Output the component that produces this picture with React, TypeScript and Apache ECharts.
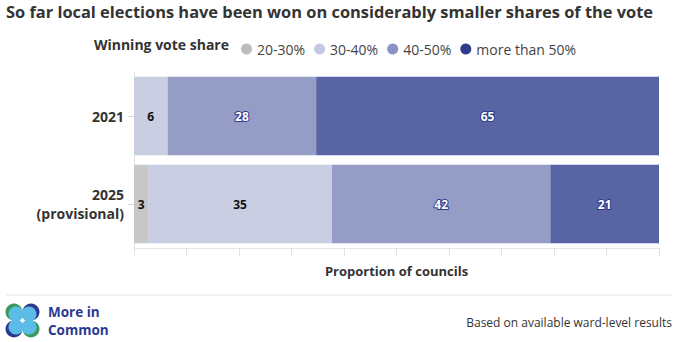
import React, { useEffect, useRef } from "react";
import * as echarts from "echarts";

const categories = ["2021", "2025\n(provisional)"];
const seriesNames = ["20-30%", "30-40%", "40-50%", "more than 50%"];
const share2030 = [0, 2.7];
const share3040 = [6.4, 35.0];
const share4050 = [28.3, 41.6];
const shareOver50 = [65.3, 20.7];
const xTicks = [0, 10, 20, 30, 40, 50, 60, 70, 80, 90, 100];

const barColors = ["#c7c7c7", "#c9cee3", "#959dc6", "#5864a3"];
const legendColors = ["#bdbdbd", "#c3c9e2", "#8a93c4", "#2e3a8c"];
const FONT = "Open Sans";

export default function App() {
  const ref = useRef<HTMLDivElement>(null);
  useEffect(() => {
    document.body.style.margin = "0";
    if (!ref.current) return;
    const chart = echarts.init(ref.current, null, { renderer: "svg" });
    const values = [share2030, share3040, share4050, shareOver50];
    const darkLabel = [false, false, true, true];
    const series = seriesNames.map((name, i) => ({
      name,
      type: "bar",
      stack: "total",
      barCategoryGap: "11%",
      data: values[i].map((v) => (v > 0 ? v : null)),
      itemStyle: { color: barColors[i] },
      label: {
        show: true,
        position: "inside",
        formatter: (p: any) => String(Math.round(p.value)),
        fontFamily: FONT,
        fontSize: 12,
        fontWeight: "bold",
        color: darkLabel[i] ? "#ffffff" : "#111111",
        textBorderColor: darkLabel[i] ? "#2e3a8c" : "transparent",
        textBorderWidth: darkLabel[i] ? 2 : 0,
      },
    }));
    chart.setOption({
      animation: false,
      textStyle: { fontFamily: FONT },
      legend: {
        left: 236,
        top: 37,
        icon: "circle",
        itemWidth: 11,
        itemHeight: 11,
        itemGap: 9,
        textStyle: { fontFamily: FONT, fontSize: 14, color: "#444444" },
        data: seriesNames.map((n, i) => ({ name: n, itemStyle: { color: legendColors[i] } })),
      },
      grid: { left: 134, right: 20, top: 72, bottom: 94, containLabel: false },
      xAxis: {
        type: "value",
        min: xTicks[0],
        max: xTicks[xTicks.length - 1],
        interval: 10,
        name: "Proportion of councils",
        nameLocation: "middle",
        nameGap: 16,
        nameTextStyle: { fontFamily: FONT, fontSize: 13, fontWeight: "bold", color: "#333333" },
        axisLabel: { show: false },
        axisLine: { show: true, lineStyle: { color: "#e6e6e6" } },
        axisTick: { show: true, length: 8, lineStyle: { color: "#e3e3e3" } },
        splitLine: { show: false },
      },
      yAxis: {
        type: "category",
        inverse: true,
        data: categories,
        axisLine: { show: true, lineStyle: { color: "#e3e3e3" } },
        axisTick: { show: true, length: 6, alignWithLabel: true, lineStyle: { color: "#d8d8d8" } },
        axisLabel: {
          margin: 10,
          fontFamily: FONT,
          fontSize: 14,
          fontWeight: "bold",
          color: "#333333",
          align: "right",
          lineHeight: 19,
        },
      },
      series,
      graphic: [
        {
          type: "text",
          left: 6,
          top: 3,
          style: {
            text: "So far local elections have been won on considerably smaller shares of the vote",
            fontFamily: FONT,
            fontSize: 16.4,
            fontWeight: "bold",
            fill: "#333333",
          },
        },
        {
          type: "text",
          x: 229,
          y: 44,
          style: {
            text: "Winning vote share",
            fontFamily: FONT,
            fontSize: 14,
            fontWeight: "bold",
            fill: "#333333",
            align: "right",
            verticalAlign: "middle",
          },
        },
        {
          type: "line",
          shape: { x1: 6, y1: 295, x2: 672, y2: 295 },
          style: { stroke: "#e8e8e8", lineWidth: 1 },
        },
        { type: "circle", shape: { cx: 14, cy: 312, r: 8.5 }, style: { fill: "#3b9a5a" } },
        { type: "circle", shape: { cx: 31, cy: 312, r: 8.5 }, style: { fill: "#2b3990" } },
        { type: "circle", shape: { cx: 14, cy: 329, r: 8.5 }, style: { fill: "#2b3990" } },
        { type: "circle", shape: { cx: 31, cy: 329, r: 8.5 }, style: { fill: "#3b9a5a" } },
        { type: "circle", shape: { cx: 16, cy: 314, r: 7.5 }, style: { fill: "#5bbce8" } },
        { type: "circle", shape: { cx: 29, cy: 314, r: 7.5 }, style: { fill: "#5bbce8" } },
        { type: "circle", shape: { cx: 16, cy: 327, r: 7.5 }, style: { fill: "#5bbce8" } },
        { type: "circle", shape: { cx: 29, cy: 327, r: 7.5 }, style: { fill: "#5bbce8" } },
        {
          type: "text",
          x: 48,
          y: 312,
          style: {
            text: "More in",
            fontFamily: FONT,
            fontSize: 13.5,
            fontWeight: "bold",
            fill: "#2b3990",
            verticalAlign: "middle",
          },
        },
        {
          type: "text",
          x: 48,
          y: 329.5,
          style: {
            text: "Common",
            fontFamily: FONT,
            fontSize: 13.5,
            fontWeight: "bold",
            fill: "#2b3990",
            verticalAlign: "middle",
          },
        },
        {
          type: "text",
          x: 672,
          y: 322,
          style: {
            text: "Based on available ward-level results",
            fontFamily: FONT,
            fontSize: 12,
            fill: "#333333",
            align: "right",
            verticalAlign: "middle",
          },
        },
      ],
    });
    return () => chart.dispose();
  }, []);
  return <div ref={ref} style={{ width: 679, height: 342 }} />;
}
